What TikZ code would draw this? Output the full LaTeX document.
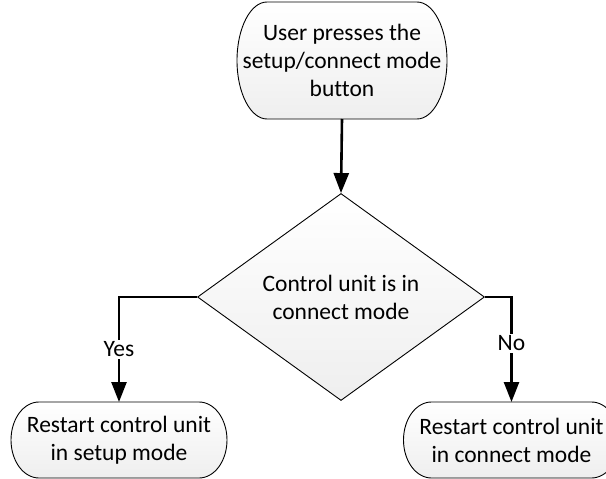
\documentclass[tikz,border=0pt]{standalone}
\usepackage{fontspec}
\setmainfont{Carlito}[Ligatures=NoCommon]
\usetikzlibrary{shapes.geometric,arrows.meta}
\pgfdeclarelayer{background}
\pgfsetlayers{background,main}
\begin{document}
\begin{tikzpicture}[x=1pt,y=-1pt,
  shapefill/.style={top color=white,bottom color=gray!13,draw=black,line width=0.9pt},
  term/.style={rectangle,inner sep=0pt,outer sep=0pt,align=center,font=\fontsize{23.5}{28}\selectfont},
  decision/.style={shapefill,diamond,inner sep=0pt,align=center,font=\fontsize{23.5}{28}\selectfont},
  flow/.style={line width=2.6pt,-{Triangle[length=20pt,width=15pt]}},
  lbl/.style={fill=white,inner sep=2pt,font=\fontsize{23.5}{28}\selectfont}]
\useasboundingbox (0,0) rectangle (606,479);
\clip (0,0) rectangle (606,479);
\node[term,minimum width=210pt,minimum height=117pt] (start) at (342,60.5) {User presses the\\setup/connect mode\\button};
\node[decision,minimum width=287pt,minimum height=207pt] (dec) at (341,297) {Control unit is in\\connect mode};
\node[term,minimum width=216pt,minimum height=76pt] (yes) at (119,440) {Restart control unit\\in setup mode};
\node[term,minimum width=216pt,minimum height=76pt] (no) at (511.5,440) {Restart control unit\\in connect mode};
\begin{pgfonlayer}{background}
\path[shapefill] ([xshift=30pt]start.north west) -- ([xshift=-30pt]start.north east)
  arc[start angle=90,end angle=-90,x radius=30pt,y radius=58.5pt]
  -- ([xshift=30pt]start.south west)
  arc[start angle=270,end angle=90,x radius=30pt,y radius=58.5pt] -- cycle;
\foreach \n in {yes,no}{
\path[shapefill] ([xshift=28pt]\n.north west) -- ([xshift=-28pt]\n.north east)
  arc[start angle=90,end angle=-90,x radius=28pt,y radius=38pt]
  -- ([xshift=28pt]\n.south west)
  arc[start angle=270,end angle=90,x radius=28pt,y radius=38pt] -- cycle;
}
\end{pgfonlayer}
\draw[flow] (start.south) -- (dec.north);
\draw[flow] (dec.west) -| node[lbl,pos=0.75] {Yes} (yes.north);
\draw[flow] (dec.east) -| node[lbl,pos=0.72] {No} (no.north);
\end{tikzpicture}
\end{document}
